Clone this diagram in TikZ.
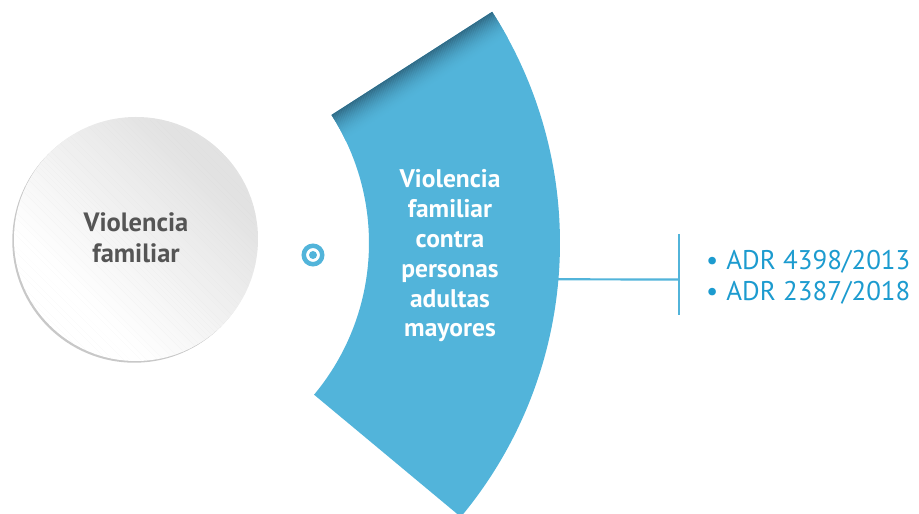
\documentclass[tikz,border=0pt]{standalone}
\usepackage{fontspec}
\setmainfont{PT Sans}
\usetikzlibrary{calc}
\definecolor{secblue}{RGB}{82,180,218}
\definecolor{secdark}{RGB}{48,105,132}
\definecolor{adrblue}{RGB}{28,155,207}
\definecolor{txtgray}{RGB}{85,85,85}
\definecolor{rimgray}{RGB}{200,200,200}
\definecolor{circgray}{RGB}{226,226,226}
\begin{document}
\begin{tikzpicture}[x=1pt,y=1pt,
  sectortext/.style={text=white, font=\bfseries\fontsize{25.5}{29.8}\selectfont, align=center, inner sep=0pt},
  circtext/.style={text=txtgray, font=\bfseries\fontsize{26.5}{31}\selectfont, align=center, inner sep=0pt},
  adrtext/.style={text=adrblue, font=\fontsize{27}{31}\selectfont, inner sep=0pt, anchor=base west},
  conn/.style={draw=secblue, line width=2.2pt},
  marker/.style={draw=secblue, line width=4.5pt, circle, minimum size=18.5pt, inner sep=0pt}]
\path[use as bounding box] (0,0) rectangle (919,514);
\coordinate (C) at (132,271);
% left circle
\fill[rimgray] (134.3,273.3) circle (122);
\begin{scope}
\clip (136,275) circle (122);
\begin{scope}[shift={(136,275)}, rotate=-45]
\foreach \i in {0,...,60}{
  \pgfmathsetmacro\p{max(0,min(100,100*(\i-10)/45))}
  \fill[circgray!\p!white] (-130,-122+\i*4) rectangle (130,-122+\i*4+4.2);
}
\end{scope}
\end{scope}
\node[circtext] (vf) at (136,276.7) {Violencia\\familiar};
% sector
\begin{scope}
\clip (C) ++(32.7:237) arc[start angle=32.7, end angle=-39.8, radius=237]
  -- ($(C)+(-39.8:428)$) arc[start angle=-39.8, end angle=32.7, radius=428] -- cycle;
\fill[secblue] (0,0) rectangle (919,514);
\begin{scope}[shift={(132,271)}, rotate=32.7]
\foreach \i in {0,...,29}{
  \pgfmathsetmacro\p{100*(1-\i/30)^2}
  \fill[secdark!\p!secblue] (220,-\i) rectangle (450,-\i-1.1);
}
\end{scope}
\end{scope}
\node[sectortext] (vfam) at (450,258) {Violencia\\familiar\\contra\\personas\\adultas\\mayores};
% marker
\node[marker] (mk) at (313,259) {};
\fill[secblue] (mk.center) circle (4);
% connector
\coordinate (out) at ($(C)+(-4.9:425)$);
\coordinate (barmid) at (679,234.5);
\coordinate (bartop) at (679,280);
\coordinate (barbot) at (679,199);
\draw[conn] (out) -- (barmid);
\draw[conn] (bartop) -- (barbot);
% references
\node[adrtext] (a1) at (706,244) {\textbullet\hspace{8pt}ADR 4398/2013};
\node[adrtext] (a2) at (706,213) {\textbullet\hspace{8pt}ADR 2387/2018};
\end{tikzpicture}
\end{document}
